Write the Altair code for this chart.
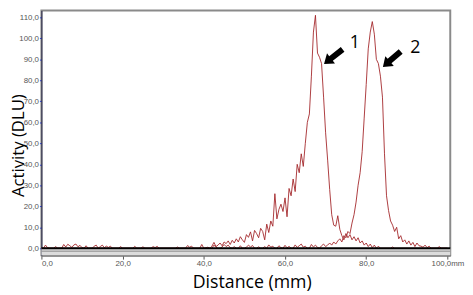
import altair as alt
import pandas as pd

# ---- trace 1 (peak near 67 mm) ----
dist_a = [0, 0.5, 1.0, 1.5, 2.0, 5.0, 5.5, 6.0, 6.5, 7.0, 7.5, 8.0, 8.5, 9.0, 9.5, 10.0,
          10.5, 11.0, 11.5, 12.5, 13.0, 13.5, 14.0, 14.5, 15.0, 15.5, 16.0, 16.5, 17.0, 17.5,
          19.0, 19.5, 20.0, 22.5, 23.0, 23.5, 27.0, 27.5, 28.0, 28.5, 29.0, 35.5, 36.0, 36.5,
          37.0, 37.5, 39.0, 39.5, 40.0, 41.0, 41.5, 42.0,
          42.5, 43.0, 43.5, 44.0, 44.5, 45.0, 45.5, 46.0, 46.5, 47.0, 47.5, 48.0, 48.5, 49.0,
          49.5, 50.0, 50.5, 51.0, 51.5, 52.0, 52.5, 53.0, 53.5, 54.0, 54.5, 55.0, 55.5, 56.0,
          56.5, 57.0, 57.5, 58.0, 58.5, 59.0, 59.5, 60.0, 60.5, 61.0, 61.5, 62.0, 62.5, 63.0,
          63.5, 64.0, 64.5, 65.0, 65.5, 66.0, 66.5, 67.0, 67.5, 68.0, 68.5, 69.0, 69.5, 70.0,
          70.5, 71.0, 71.5, 72.0, 72.5, 73.0, 73.5, 74.0, 74.5, 75.0, 75.5, 76.0, 76.5, 77.0,
          77.5, 78.0, 78.5, 79.0, 79.5, 80.0, 80.5, 81.0, 81.5, 82.0, 82.5, 83.0, 83.5, 86.0,
          86.5, 87.0, 100.0]
act_a = [0, 0, 1.5, 0.3, 0, 0, 1.8, 0.6, 1.9, 1.2, 0.4, 1.6, 2.0, 0.7, 1.4, 0.3,
         0, 1.2, 0, 0, 1.0, 1.5, 0, 0.8, 1.5, 0.3, 1.0, 0.4, 1.0, 0,
         0, 0.8, 0, 0, 0.9, 0, 0, 0.8, 0.3, 0.9, 0, 0, 1.3, 0.5,
         1.0, 0, 0, 1.8, 0, 0.5, 0, 1.0,
         2.8, 0.8, 1.5, 2.5, 1.2, 3.0, 2.2, 3.5, 1.8, 3.8, 2.5, 4.5, 3.0, 5.5,
         4.0, 2.8, 6.5, 5.2, 7.8, 3.5, 8.5, 7.0, 5.0, 9.5, 8.0, 4.0, 11.5, 7.5,
         13.0, 10.5, 26.0, 14.0, 18.5, 21.0, 17.5, 24.0, 15.0, 28.5, 25.0, 33.0, 27.0, 40.0,
         36.0, 45.0, 39.0, 50.0, 60.0, 64.0, 82.0, 103.0, 111.0, 93.0, 91.0, 88.0, 72.0, 55.0,
         42.0, 28.0, 16.0, 11.0, 10.5, 15.5, 9.0, 6.0, 4.0, 7.0, 5.0, 6.5, 4.0, 5.5,
         3.5, 5.0, 2.5, 3.5, 1.5, 2.5, 0.8, 2.0, 0.3, 1.5, 0, 1.0, 0, 0,
         0.6, 0, 0]

# ---- trace 2 (peak near 81.5 mm) ----
dist_b = [0, 3.0, 3.5, 4.0, 24.5, 25.0, 25.5, 33.0, 33.5, 34.0, 40.0, 42.0,
          42.5, 43.0, 43.5, 44.0, 44.5, 45.0, 45.5, 46.0, 46.5, 47.0, 47.5, 48.0, 48.5, 49.0,
          49.5, 50.0, 50.5, 51.0, 51.5, 52.0, 52.5, 53.0, 53.5, 54.0, 54.5, 55.0, 55.5, 56.0,
          56.5, 57.0, 57.5, 58.0, 58.5, 59.0, 59.5, 60.0, 60.5, 61.0, 61.5, 62.0, 62.5, 63.0,
          63.5, 64.0, 64.5, 65.0, 65.5, 66.0, 66.5, 67.0, 67.5, 68.0, 68.5, 69.0, 69.5, 70.0,
          70.5, 71.0, 71.5, 72.0, 72.5, 73.0, 73.5, 74.0, 74.5, 75.0, 75.5, 76.0, 76.5, 77.0,
          77.5, 78.0, 78.5, 79.0, 79.5, 80.0, 80.5, 81.0, 81.5, 82.0, 82.5, 83.0, 83.5, 84.0,
          84.5, 85.0, 85.5, 86.0, 86.5, 87.0, 87.5, 88.0, 88.5, 89.0, 89.5, 90.0, 90.5, 91.0,
          91.5, 92.0, 92.5, 93.0, 93.5, 94.0, 94.5, 95.0, 95.5, 96.0, 97.5, 98.0, 98.5, 100.0]
act_b = [0, 0, 0.8, 0, 0, 0.7, 0, 0, 0.6, 0, 0, 0,
         1.5, 0.5, 0, 0, 0.6, 1.8, 0.8, 1.5, 0.3, 0, 0.8, 0, 0, 1.2,
         0, 0, 0.5, 1.5, 0.6, 1.3, 0, 0, 0.7, 0, 0, 0.8, 0, 1.6,
         0.5, 1.0, 0, 0, 1.2, 0.3, 0, 1.4, 0.2, 0.9, 0, 0, 1.6, 0.4,
         1.2, 2.0, 0.5, 1.0, 0, 0, 1.8, 0.6, 1.5, 0.4, 0, 1.2, 2.0, 0.8,
         1.5, 2.5, 1.5, 3.0, 2.0, 3.5, 4.5, 3.0, 6.0, 5.0, 8.0, 7.0, 12.0, 16.0,
         22.0, 30.0, 36.0, 46.0, 62.0, 78.0, 95.0, 103.0, 108.0, 102.0, 90.0, 88.0, 82.0, 72.0,
         45.0, 25.0, 18.0, 13.0, 11.0, 8.0, 10.0, 4.5, 6.0, 3.0, 4.0, 2.0, 3.5, 1.5,
         2.8, 0.8, 2.5, 1.2, 1.0, 0.5, 1.5, 0.3, 1.0, 0, 0, 0.8, 0, 0]

x_ticks = [0, 20, 40, 60, 80, 100]
y_ticks = [0, 10, 20, 30, 40, 50, 60, 70, 80, 90, 100, 110]

# annotation arrows and their numbers
arrow_x = [71.9, 86.3]
arrow_y = [91.3, 90.1]
arrow_angle = [142, 139]
label_text = ["1", "2"]
label_x = [77.2, 92.1]
label_y = [97.6, 95.3]

X_DOMAIN = [0, 100.7]
Y_DOMAIN = [-3.3, 113.3]
W, H = 416, 249
RED = "#a3262a"
ARROW_PATH = "M -1 -0.25 L 0.25 -0.25 L 0.25 -0.55 L 1 0 L 0.25 0.55 L 0.25 0.25 L -1 0.25 Z"

traces = pd.DataFrame({
    "distance": dist_a + dist_b,
    "activity": act_a + act_b,
    "trace": ["1"] * len(dist_a) + ["2"] * len(dist_b),
})
arrows = pd.DataFrame({"x": arrow_x, "y": arrow_y, "angle": arrow_angle})
labels = pd.DataFrame({"x": label_x, "y": label_y, "t": label_text})

xs = alt.Scale(domain=X_DOMAIN, nice=False, zero=False)
ys = alt.Scale(domain=Y_DOMAIN, nice=False, zero=False)

num_expr = "replace(format(datum.value, '.1f'), '.', ',')"

x_axis = alt.Axis(
    values=x_ticks, title="Distance (mm)", grid=False, labelOverlap=False,
    labelExpr="datum.value == 100 ? '100,0mm' : " + num_expr,
    domainColor="#7a7a7a", domainWidth=2, tickColor="#555555", tickSize=4,
    labelFont="Liberation Sans", labelFontSize=8, labelColor="#555555", labelPadding=1,
    titleFont="Open Sans", titleFontSize=18, titleFontWeight="normal", titleColor="black",
    titleX=214, titleY=28, titleAlign="center", titleBaseline="middle",
)
y_axis = alt.Axis(
    values=y_ticks, title="Activity (DLU)", grid=False, labelExpr=num_expr,
    labelOverlap=False,
    domainColor="#222244", domainWidth=1, tickColor="#3344cc", tickSize=2,
    labelFont="Liberation Sans", labelFontSize=8, labelColor="#555555", labelPadding=1,
    titleFont="Open Sans", titleFontSize=17, titleFontWeight="normal", titleColor="black",
    titleAngle=270, titleX=-31, titleY=137, titleAlign="center", titleBaseline="top",
)

one = alt.Data(values=[{}])

lines = alt.Chart(traces).mark_line(color=RED, strokeWidth=0.9, clip=True).encode(
    x=alt.X("distance:Q", scale=xs, axis=x_axis),
    y=alt.Y("activity:Q", scale=ys, axis=y_axis),
    detail="trace:N",
    order="distance:Q",
)

band = alt.Chart(one).mark_rect(color="#dcdcdc").encode(
    x=alt.value(0), x2=alt.value(W),
    y=alt.datum(0, scale=ys, axis=y_axis), y2=alt.datum(Y_DOMAIN[0]),
)
band_line = alt.Chart(one).mark_rule(color="#8c8c8c", strokeWidth=1).encode(
    x=alt.value(0), x2=alt.value(W), y=alt.datum(-1.4, scale=ys, axis=y_axis),
)

zero_line = alt.Chart(one).mark_rule(color="black", strokeWidth=2).encode(
    x=alt.value(0), x2=alt.value(W), y=alt.datum(0, scale=ys, axis=y_axis),
)

arrow_marks = alt.Chart(arrows).mark_point(
    shape=ARROW_PATH, size=576, filled=True, color="black", opacity=1, strokeWidth=0,
).encode(
    x=alt.X("x:Q", scale=xs, axis=x_axis),
    y=alt.Y("y:Q", scale=ys, axis=y_axis),
    angle=alt.Angle("angle:Q", scale=None),
)

label_marks = alt.Chart(labels).mark_text(
    font="Open Sans", fontSize=18, color="black", align="center", baseline="middle",
).encode(
    x=alt.X("x:Q", scale=xs, axis=x_axis),
    y=alt.Y("y:Q", scale=ys, axis=y_axis),
    text="t:N",
)

chart = alt.layer(lines, band, band_line, zero_line, arrow_marks, label_marks).properties(
    width=W, height=H,
    autosize=alt.AutoSizeParams(type="none"),
    padding={"left": 34, "top": 0, "right": 15, "bottom": 38},
).configure_view(stroke="#8a8a8a", strokeWidth=2)

chart.save("out.html", embed_options={"renderer": "svg", "actions": False})
